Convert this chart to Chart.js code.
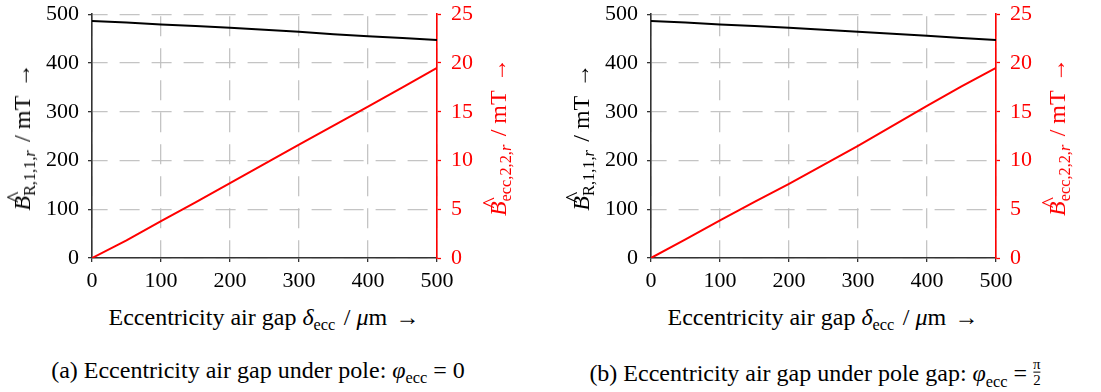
<!DOCTYPE html>
<html lang="en">
<head>
<meta charset="utf-8">
<script src="https://cdn.jsdelivr.net/npm/chart.js@4"></script>
<style>
  body { margin: 0; font-size: 22px; font-family: 'Liberation Serif'; }
  .box { position: absolute; top: -9px; height: 309px; }
  .lbl { position: absolute; white-space: nowrap; font-size: 24px; line-height: 1; font-family: 'Liberation Serif'; }
  .rot { transform: translate(-50%, -50%) rotate(-90deg); }
  .hx { transform: translate(-50%, -50%); }
  .red { color: #ff0000; }
  .it { font-style: italic; }
  .sp { display: inline-block; width: 0.35em; }
  .sb { font-size: 68%; position: relative; top: 0.3em; }
  .hat { position: relative; display: inline-block; font-style: italic; }
  .hat span { position: absolute; left: 0.32em; top: -0.32em; font-style: normal; }
  .frac { display: inline-block; font-size: 62%; text-align: center; line-height: 1.0;
          position: relative; top: 0.15em; vertical-align: bottom; }
  .frac span { display: block; }
  .frac .dn { border-top: 1px solid #000; }
</style>
</head>
<body>
<div class="box" style="left:0;width:550px"><canvas id="chartA"></canvas></div>
<div class="box" style="left:559px;width:542px"><canvas id="chartB"></canvas></div>

<div class="lbl rot" style="left:22px;top:137px"><span class="hat">B<span>^</span></span><span class="sb">R,1,1,<span class="it">r</span></span><span class="sp"></span>/ mT<span class="sp"></span>→</div>
<div class="lbl rot red" style="left:498px;top:137px"><span class="hat">B<span>^</span></span><span class="sb">ecc,2,2,<span class="it">r</span></span><span class="sp"></span>/ mT<span class="sp"></span>→</div>
<div class="lbl hx" style="left:264px;top:317px">Eccentricity air gap <span class="it">δ</span><span class="sb">ecc</span><span class="sp"></span>/ <span class="it">μ</span>m<span class="sp"></span>→</div>
<div class="lbl hx" style="left:258px;top:370px">(a) Eccentricity air gap under pole: <span class="it">φ</span><span class="sb">ecc</span> = 0</div>

<div class="lbl rot" style="left:581px;top:137px"><span class="hat">B<span>^</span></span><span class="sb">R,1,1,<span class="it">r</span></span><span class="sp"></span>/ mT<span class="sp"></span>→</div>
<div class="lbl rot red" style="left:1057px;top:137px"><span class="hat">B<span>^</span></span><span class="sb">ecc,2,2,<span class="it">r</span></span><span class="sp"></span>/ mT<span class="sp"></span>→</div>
<div class="lbl hx" style="left:823px;top:317px">Eccentricity air gap <span class="it">δ</span><span class="sb">ecc</span><span class="sp"></span>/ <span class="it">μ</span>m<span class="sp"></span>→</div>
<div class="lbl hx" style="left:815px;top:370px">(b) Eccentricity air gap under pole gap: <span class="it">φ</span><span class="sb">ecc</span> = <span class="frac"><span>π</span><span class="dn">2</span></span></div>

<script>
// eccentricity air gap in µm
const ecc = [0, 50, 100, 150, 200, 250, 300, 350, 400, 450, 500];

// (a) under pole
const bRotorA = [486, 483, 479, 476, 472, 468, 464, 459, 455, 451, 447];
const bEccA = [0, 1.8, 3.79, 5.7, 7.67, 9.65, 11.63, 13.57, 15.52, 17.5, 19.5];

// (b) under pole gap
const bRotorB = [486, 483, 479, 476, 472, 468, 464, 460, 456, 451, 447];
const bEccB = [0, 1.9, 3.85, 5.75, 7.6, 9.55, 11.5, 13.55, 15.6, 17.6, 19.5];

const xTicks = [0, 100, 200, 300, 400, 500];
const leftTicks = [0, 100, 200, 300, 400, 500];
const rightTicks = [0, 5, 10, 15, 20, 25];

Chart.defaults.font.family = "Liberation Serif";
const tickFont = { family: "Liberation Serif", size: 22 };
const gridGray = "rgba(190,190,190,0.9)";

function pts(ys) {
  return ecc.map((x, i) => ({ x: x, y: ys[i] }));
}

function makeChart(id, rotor, eccVals, rightWidth) {
  const canvas = document.getElementById(id);
  new Chart(canvas, {
    type: "line",
    data: {
      datasets: [
        { data: pts(rotor), yAxisID: "y", borderColor: "#000", borderWidth: 2, pointRadius: 0 },
        { data: pts(eccVals), yAxisID: "y2", borderColor: "#ff0000", borderWidth: 2, pointRadius: 0 },
      ],
    },
    options: {
      responsive: true,
      maintainAspectRatio: false,
      animation: false,
      layout: { padding: { top: 13, left: 0, right: 0, bottom: 0 } },
      plugins: { legend: { display: false }, tooltip: { enabled: false } },
      scales: {
        x: {
          type: "linear",
          min: 0,
          max: 500,
          afterBuildTicks: (s) => { s.ticks = xTicks.map((v) => ({ value: v })); },
          afterFit: (s) => { s.height = 42; },
          ticks: { color: "#000", font: tickFont, padding: 6, maxRotation: 0 },
          grid: { color: gridGray, lineWidth: 1.3, tickColor: "#333", tickLength: 4, tickWidth: 1.3 },
          border: { color: "#333", width: 1.6, dash: [20, 12], dashOffset: -2 },
        },
        y: {
          position: "left",
          min: 0,
          max: 500,
          afterBuildTicks: (s) => { s.ticks = leftTicks.map((v) => ({ value: v })); },
          afterFit: (s) => { s.width = 92; },
          ticks: { color: "#000", font: tickFont, padding: 9 },
          grid: { color: gridGray, lineWidth: 1.3, tickColor: "#333", tickLength: 4, tickWidth: 1.3 },
          border: { color: "#333", width: 1.6, dash: [20, 12], dashOffset: 5 },
        },
        y2: {
          position: "right",
          min: 0,
          max: 25,
          afterBuildTicks: (s) => { s.ticks = rightTicks.map((v) => ({ value: v })); },
          afterFit: (s) => { s.width = rightWidth; },
          ticks: { color: "#ff0000", font: tickFont, padding: 10 },
          grid: { drawOnChartArea: false, tickColor: "#ff0000", tickLength: 4, tickWidth: 1.3 },
          border: { color: "#ff0000", width: 1.6 },
        },
      },
    },
  });
}

makeChart("chartA", bRotorA, bEccA, 113);
makeChart("chartB", bRotorB, bEccB, 105);
</script>
</body>
</html>
